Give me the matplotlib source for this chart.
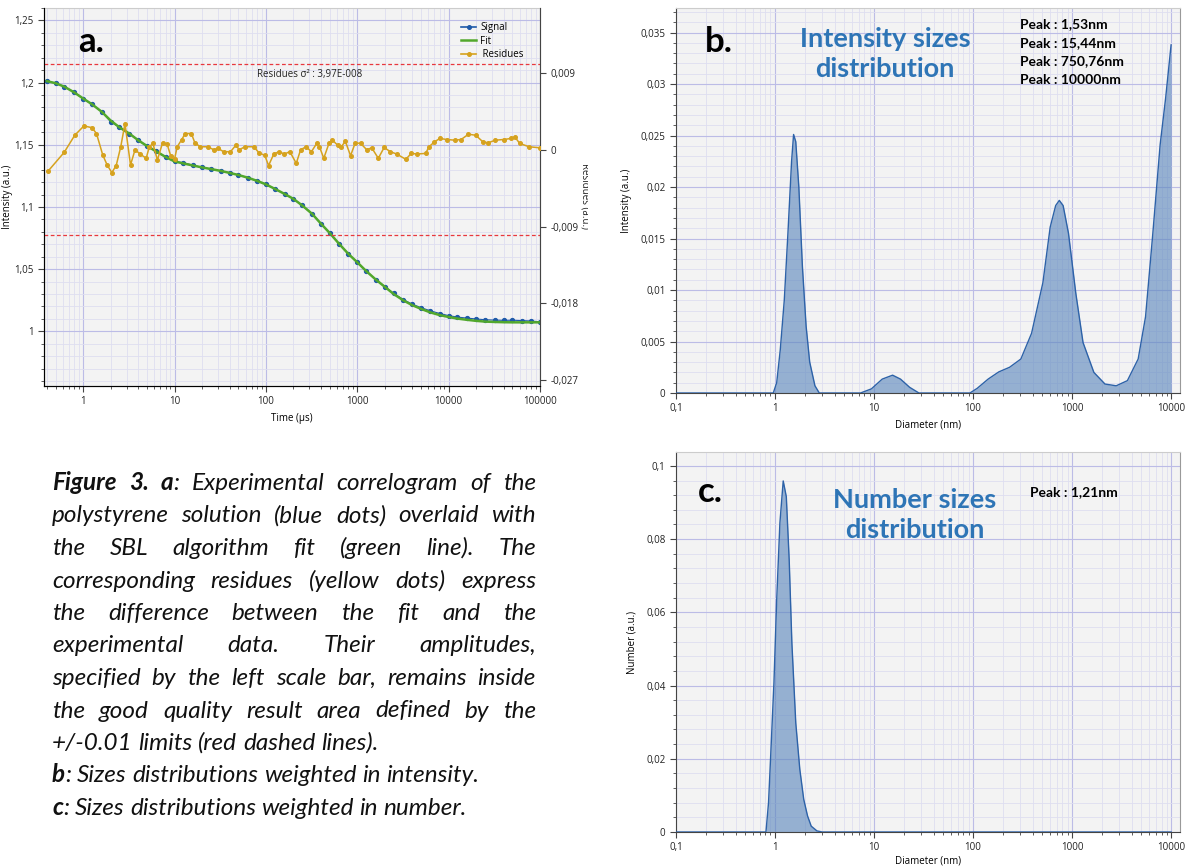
import matplotlib
matplotlib.use('Agg')
import matplotlib.pyplot as plt
from matplotlib.lines import Line2D
from matplotlib.ticker import FixedLocator, FuncFormatter, LogLocator, NullFormatter, MultipleLocator
from matplotlib.transforms import Bbox, TransformedBbox

W, H = 1192, 867

# ---------------- panel a : correlogram ----------------
sig_t = [0.4, 0.5, 0.62, 0.8, 1.0, 1.25, 1.6, 2.0, 2.5, 3.2, 4.0, 5.0, 6.3, 8.0,
         10, 12.5, 16, 20, 25, 32, 40, 50, 63, 80, 100, 125, 160, 200, 250, 320,
         400, 500, 630, 800, 1000, 1250, 1600, 2000, 2500, 3200, 4000, 5000, 6300,
         8000, 10000, 12500, 16000, 20000, 25000, 32000, 40000, 50000, 63000,
         80000, 100000]
sig_v = [1.2012, 1.1995, 1.1968, 1.1921, 1.1872, 1.1826, 1.1765, 1.1685, 1.1640,
         1.1590, 1.1537, 1.1490, 1.1447, 1.1402, 1.1366, 1.1356, 1.1335, 1.1318,
         1.1305, 1.1290, 1.1274, 1.1257, 1.1236, 1.1210, 1.1182, 1.1146, 1.1105,
         1.1065, 1.1012, 1.0945, 1.0866, 1.0790, 1.0705, 1.0622, 1.0555, 1.0485,
         1.0415, 1.0360, 1.0305, 1.0255, 1.0218, 1.0190, 1.0165, 1.0143, 1.0126,
         1.0114, 1.0106, 1.0099, 1.0093, 1.0090, 1.0088, 1.0089, 1.0086, 1.0083,
         1.0076]
fit_t = sig_t
fit_v = [1.2012, 1.1995, 1.1968, 1.1921, 1.1872, 1.1826, 1.1765, 1.1695, 1.1640,
         1.1590, 1.1537, 1.1490, 1.1447, 1.1402, 1.1366, 1.1350, 1.1333, 1.1318,
         1.1305, 1.1290, 1.1274, 1.1257, 1.1236, 1.1210, 1.1182, 1.1146, 1.1105,
         1.1065, 1.1012, 1.0945, 1.0866, 1.0790, 1.0705, 1.0622, 1.0555, 1.0485,
         1.0415, 1.0358, 1.0300, 1.0248, 1.0210, 1.0180, 1.0152, 1.0130, 1.0115,
         1.0102, 1.0092, 1.0084, 1.0078, 1.0075, 1.0073, 1.0072, 1.0072, 1.0072,
         1.0072]

res_t = [0.41, 0.62, 0.81, 1.02, 1.25, 1.4, 1.64, 1.83, 2.06, 2.3, 2.58, 2.87, 3.3,
         3.7, 4.2, 4.9, 5.3, 5.8, 6.5, 7.4, 8.3, 9.1, 10.0, 10.7, 12.0, 13.1, 15.3,
         16.7, 19.1, 23, 27, 30, 34.5, 41, 47, 51, 59, 74, 85, 97, 107, 122, 139,
         159, 183, 215, 240, 275, 315, 360, 386, 430, 490, 535, 610, 670, 740, 845,
         950, 1090, 1270, 1440, 1700, 1970, 2300, 2700, 3400, 3900, 4500, 5600,
         6100, 7000, 8000, 9600, 11700, 13700, 16500, 19800, 23700, 27000, 32400,
         40000, 48000, 53000, 60000, 76000, 100000]
res_v = [-0.00255, -0.00031, 0.0017, 0.00279, 0.00259, 0.0019, -0.00062, -0.00178,
         -0.00267, -0.00186, 0.00035, 0.00306, -0.00178, 0.0, -0.0005, -0.001,
         0.00035, 0.00074, -0.0012, 0.00081, 0.00066, -0.00074, -0.00112, 0.00035,
         0.0012, 0.0019, 0.0019, 0.00081, 0.00035, 0.00035, 0.0, 0.00015, -0.00023,
         -0.00023, 0.00054, 0.0, 0.00035, 0.00035, -0.00043, -0.00062, -0.00186,
         -0.0005, -0.00023, -0.0005, -0.00023, -0.00159, 0.0, 0.00035, -0.00023,
         0.00074, 0.00035, -0.001, 0.00074, 0.00112, 0.00054, 0.00035, 0.001,
         -0.0007, 0.00081, 0.00074, 0.0, 0.00023, -0.001, 0.00027, -0.00023,
         -0.0005, -0.00112, -0.00043, -0.0005, -0.00043, 0.00035, 0.00093, 0.00132,
         0.0012, 0.00112, 0.0012, 0.00182, 0.0017, 0.00093, 0.00081, 0.00112,
         0.0012, 0.00132, 0.00151, 0.00074, 0.00035, 0.00023]
res_limits = [0.01, -0.01]
res_sigma = 'Residues σ² : 3,97E-008'

# ---------------- panel b : intensity distribution ----------------
int_d = [0.1, 0.96, 1.04, 1.13, 1.24, 1.35, 1.47, 1.54, 1.62, 1.74, 1.89, 2.06,
         2.24, 2.53, 2.8, 7.3, 9.4, 12.1, 15.4, 18.5, 22.9, 28.4, 93, 110, 142,
         182, 234, 304, 390, 507, 601, 683, 743, 812, 920, 1090, 1290, 1660, 2150,
         2790, 3620, 4650, 5520, 6540, 7750, 8800, 10000]
int_v = [0, 0, 0.001, 0.0042, 0.009, 0.0155, 0.0225, 0.0251, 0.0244, 0.020, 0.0123,
         0.0065, 0.003, 0.0007, 0, 0, 0.0004, 0.00135, 0.00173, 0.00135, 0.00055, 0,
         0, 0.00045, 0.00135, 0.00205, 0.0025, 0.0033, 0.0058, 0.0107, 0.0161,
         0.0182, 0.0187, 0.0182, 0.0155, 0.0097, 0.0049, 0.002, 0.00087, 0.0007,
         0.0012, 0.0033, 0.0074, 0.0155, 0.0241, 0.0286, 0.0338]
int_peaks = ['Peak : 1,53nm', 'Peak : 15,44nm', 'Peak : 750,76nm', 'Peak : 10000nm']

# ---------------- panel c : number distribution ----------------
num_d = [0.1, 0.81, 0.86, 0.91, 0.975, 1.04, 1.12, 1.21, 1.3, 1.39, 1.48, 1.62,
         1.78, 1.95, 2.13, 2.32, 2.65, 3.0, 10000]
num_v = [0, 0, 0.008, 0.0225, 0.0407, 0.0635, 0.0844, 0.0959, 0.0916, 0.0744,
         0.0516, 0.0298, 0.0171, 0.0089, 0.0044, 0.0016, 0.0003, 0, 0]
num_peaks = ['Peak : 1,21nm']

caption = [
    "**Figure** **3.** **a**: Experimental correlogram of the",
    "polystyrene solution (blue dots) overlaid with",
    "the SBL algorithm fit (green line). The",
    "corresponding residues (yellow dots) express",
    "the difference between the fit and the",
    "experimental data. Their amplitudes,",
    "specified by the left scale bar, remains inside",
    "the good quality result area defined by the",
    "+/-0.01 limits (red dashed lines).",
    "**b**: Sizes distributions weighted in intensity.",
    "**c**: Sizes distributions weighted in number.",
]
justified = [True] * 8 + [False] * 3

BG = '#f3f3f3'
GRID_MAJ = '#bcbce6'
GRID_MIN = '#dedef0'
BLUE_TXT = '#2e75b6'
FILL = '#5b87bd'
EDGE = '#2d62a8'
SMALL = ['Open Sans', 'DejaVu Sans']
BIG = ['Lato', 'DejaVu Sans']


def comma(v, pos=None):
    return ('%g' % v).replace('.', ',')


def px_axes(l, t, r, b):
    return [l / W, 1 - b / H, (r - l) / W, (b - t) / H]


def style_axes(ax):
    ax.set_facecolor(BG)
    ax.grid(which='major', color=GRID_MAJ, lw=0.8)
    ax.grid(which='minor', color=GRID_MIN, lw=0.6)
    ax.set_axisbelow(True)
    for s in ['left', 'bottom']:
        ax.spines[s].set_color('#444444')
    ax.spines['top'].set_color('#cccccc')
    ax.spines['right'].set_color('#999999')
    ax.tick_params(which='major', labelsize=7, length=4, color='#444444', labelcolor='#222222')
    ax.tick_params(which='minor', length=2.5, color='#444444')
    for lab in ax.get_xticklabels() + ax.get_yticklabels():
        lab.set_family(SMALL)


fig = plt.figure(figsize=(W / 100, H / 100), dpi=100)

# ---- a ----
axa = fig.add_axes(px_axes(44, 8, 540, 386))
axa.set_xscale('log')
axa.set_xlim(0.373, 1.0e5)
axa.set_ylim(0.956, 1.26)
axa.yaxis.set_major_locator(FixedLocator([1, 1.05, 1.1, 1.15, 1.2, 1.25]))
axa.yaxis.set_minor_locator(MultipleLocator(0.01))
axa.yaxis.set_major_formatter(FuncFormatter(comma))
axa.xaxis.set_major_locator(LogLocator(base=10, numticks=20))
axa.xaxis.set_minor_locator(LogLocator(base=10, subs=range(2, 10), numticks=20))
axa.xaxis.set_major_formatter(FuncFormatter(comma))
axa.xaxis.set_minor_formatter(NullFormatter())
axa.plot(sig_t, sig_v, '-o', color='#1f5aa8', lw=0.8, ms=2.8, zorder=3)
axa.plot(fit_t, fit_v, '-', color='#52a82c', lw=1.8, zorder=4)
style_axes(axa)
axa.set_xlabel('Time (µs)', fontsize=7, family=SMALL, labelpad=4)
axa.set_ylabel('Intensity (a.u.)', fontsize=7, family=SMALL)
axa.yaxis.set_label_coords(-0.062, 0.5)
axa.text(0.069, 0.91, 'a.', transform=axa.transAxes, fontsize=25, weight='bold',
         family=BIG, ha='left', va='center')
axa.text(0.536, 0.825, res_sigma, transform=axa.transAxes, fontsize=7,
         family=SMALL, ha='center', va='center', color='#222222')

axr = axa.twinx()
axr.set_ylim(-0.0277, 0.01662)
axr.yaxis.set_major_locator(FixedLocator([-0.027, -0.018, -0.009, 0, 0.009]))
axr.yaxis.set_major_formatter(FuncFormatter(comma))
for lim in res_limits:
    axr.axhline(lim, color='#e8383d', lw=0.9, ls=(0, (3, 2)), zorder=2)
axr.plot(res_t, res_v, '-o', color='#d6a21e', lw=1.1, ms=2.6, zorder=5)
axr.spines['right'].set_color('#444444')
axr.spines['top'].set_visible(False)
axr.tick_params(labelsize=7, length=4, color='#444444', labelcolor='#222222')
for lab in axr.get_yticklabels():
    lab.set_family(SMALL)

handles = [Line2D([], [], color='#1f5aa8', marker='o', ms=2.6, lw=1.2),
           Line2D([], [], color='#52a82c', lw=1.8),
           Line2D([], [], color='#d6a21e', marker='o', ms=2.6, lw=1.2)]
axr.legend(handles, ['Signal', 'Fit', ' Residues'], loc='upper right',
           bbox_to_anchor=(0.985, 0.985), frameon=False,
           handlelength=1.6, handletextpad=0.4, labelspacing=0.25,
           prop={'family': SMALL, 'size': 7})

rl = fig.text(585 / W, 1 - 196 / H, 'Residues (a.u.)', rotation=270, fontsize=7,
              family=SMALL, ha='center', va='center', color='#222222')
rl.set_clip_on(True)
rl.set_clip_box(TransformedBbox(Bbox([[0, 0], [588 / W, 1]]), fig.transFigure))


def size_panel(rect, d, v, ymax, major, minor, ylabel, letter, title, title_xy,
               peaks, peak_xy, letter_xy, xpad):
    ax = fig.add_axes(rect)
    ax.set_xscale('log')
    ax.set_xlim(0.1, 12300)
    ax.set_ylim(0, ymax)
    ax.yaxis.set_major_locator(MultipleLocator(major))
    ax.yaxis.set_minor_locator(MultipleLocator(minor))
    ax.yaxis.set_major_formatter(FuncFormatter(comma))
    ax.xaxis.set_major_locator(LogLocator(base=10, numticks=20))
    ax.xaxis.set_minor_locator(LogLocator(base=10, subs=range(2, 10), numticks=20))
    ax.xaxis.set_major_formatter(FuncFormatter(comma))
    ax.xaxis.set_minor_formatter(NullFormatter())
    ax.fill_between(d, v, 0, color=FILL, alpha=0.62, lw=0, zorder=2)
    ax.plot(d, v, color=EDGE, lw=1.0, zorder=3)
    style_axes(ax)
    ax.set_xlabel('Diameter (nm)', fontsize=7, family=SMALL, labelpad=xpad)
    ax.set_ylabel(ylabel, fontsize=7, family=SMALL, labelpad=6)
    ax.text(letter_xy[0], letter_xy[1], letter, transform=ax.transAxes, fontsize=25,
            weight='bold', family=BIG, ha='left', va='center')
    ax.text(title_xy[0], title_xy[1], title, transform=ax.transAxes, fontsize=19.5,
            weight='bold', family=BIG, color=BLUE_TXT, ha='center', va='center',
            linespacing=1.3)
    for k, p in enumerate(peaks):
        ax.text(peak_xy[0], peak_xy[1] - k * 0.048, p, transform=ax.transAxes,
                fontsize=10, weight='bold', family=BIG, ha='left', va='center')
    return ax


size_panel(px_axes(676, 8, 1180, 393), int_d, int_v, 0.03738, 0.005, 0.001,
           'Intensity (a.u.)', 'b.', 'Intensity sizes\ndistribution', (0.415, 0.88),
           int_peaks, (0.683, 0.958), (0.058, 0.912), 4)
size_panel(px_axes(676, 452, 1180, 832), num_d, num_v, 0.1038, 0.02, 0.004,
           'Number (a.u.)', 'c.', 'Number sizes\ndistribution', (0.474, 0.834),
           num_peaks, (0.702, 0.895), (0.044, 0.895), 1.5)

# ---- caption, justified by hand ----
renderer = fig.canvas.get_renderer()
cap_size = 17.5
cap_left, cap_right = 52, 536


def measure(s, wt):
    t = fig.text(0, 0, s, fontsize=cap_size, style='italic', weight=wt, family=BIG)
    w = t.get_window_extent(renderer).width
    t.remove()
    return w


space_w = measure('a a', 'normal') - measure('aa', 'normal')

for i, line in enumerate(caption):
    y = 1 - (490 + 32.5 * i) / H
    words = []
    for w in line.split(' '):
        runs = []
        for j, part in enumerate(w.split('**')):
            if part:
                wt = 'bold' if j % 2 else 'normal'
                t = fig.text(0, y, part, fontsize=cap_size, style='italic', weight=wt,
                             family=BIG, va='baseline', color='#111111')
                runs.append((t, t.get_window_extent(renderer).width))
        words.append(runs)
    total = sum(wd for runs in words for _, wd in runs)
    if justified[i] and len(words) > 1:
        gap = (cap_right - cap_left - total) / (len(words) - 1)
    else:
        gap = space_w
    x = cap_left
    for runs in words:
        for t, wd in runs:
            t.set_x(x / W)
            x += wd
        x += gap

fig.savefig('out.png', dpi=100)
